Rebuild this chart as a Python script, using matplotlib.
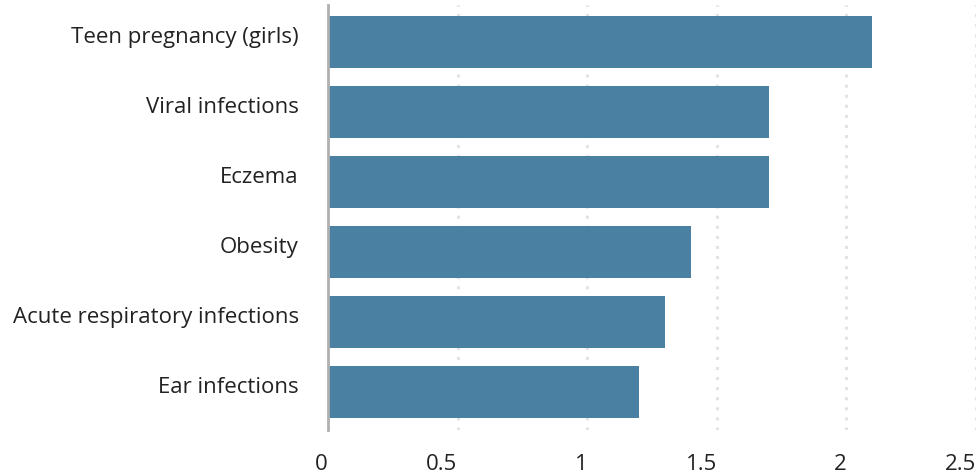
import matplotlib
matplotlib.use("Agg")
import matplotlib.pyplot as plt
import matplotlib.transforms as mtransforms

categories = ["Teen pregnancy (girls)", "Viral infections", "Eczema", "Obesity",
              "Acute respiratory infections", "Ear infections"]
values = [2.1, 1.7, 1.7, 1.4, 1.3, 1.2]
xticks = [0, 0.5, 1, 1.5, 2, 2.5]
xtick_labels = ["0", "0.5", "1", "1.5", "2", "2.5"]

plt.rcParams['font.family'] = ['Open Sans', 'DejaVu Sans']

fig = plt.figure(figsize=(9.8, 4.75), dpi=100)
ax = fig.add_axes([328/980, 1-430/475, (976-328)/980, (430-5)/475])

y = list(range(len(categories)))
ax.barh(y, values, height=0.74, color="#4a80a1", zorder=3)
ax.set_ylim(len(categories) - 0.5 + 0.04, -0.53)
ax.set_xlim(0, 2.5)

ax.set_yticks(y)
ax.set_yticklabels(categories, fontsize=16, color="#222222")
ax.set_xticks(xticks)
ax.set_xticklabels(xtick_labels, fontsize=16, color="#222222", ha="right")
ax.tick_params(axis="y", length=0, pad=21)
ax.tick_params(axis="x", length=0, pad=17)

shift = mtransforms.ScaledTranslation(0, 7/100, fig.dpi_scale_trans)
for lbl in ax.get_yticklabels():
    lbl.set_transform(lbl.get_transform() + shift)

ax.grid(axis="x", color="#e3e3e3", linewidth=2.2, linestyle=(0, (1, 2.3)), zorder=0)
ax.grid(axis="y", visible=False)
for s in ["top", "right", "bottom"]:
    ax.spines[s].set_visible(False)
ax.spines["left"].set_color("#b0b0b0")
ax.spines["left"].set_linewidth(2)
ax.spines["left"].set_zorder(4)

fig.savefig("out.png", dpi=100, facecolor="white")
